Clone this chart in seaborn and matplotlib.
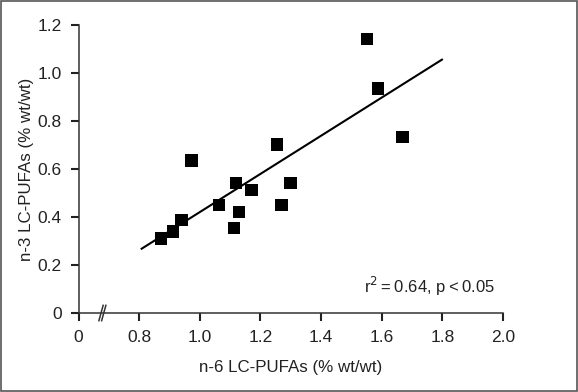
import matplotlib
matplotlib.use("Agg")
import matplotlib.pyplot as plt
import seaborn as sns
import pandas as pd
from matplotlib.patches import Rectangle

# values
n6 = [0.872, 0.911, 0.940, 0.973, 1.063, 1.120, 1.113, 1.130, 1.171,
      1.254, 1.269, 1.299, 1.551, 1.588, 1.669]
n3 = [0.310, 0.339, 0.388, 0.636, 0.451, 0.542, 0.354, 0.422, 0.513,
      0.703, 0.449, 0.543, 1.143, 0.936, 0.733]

# regression line end points
fit_x = [0.808, 1.799]
fit_y = [0.268, 1.056]

x_ticks = [0.6, 0.8, 1.0, 1.2, 1.4, 1.6, 1.8, 2.0]
x_labels = ["0", "0.8", "1.0", "1.2", "1.4", "1.6", "1.8", "2.0"]
y_ticks = [0, 0.2, 0.4, 0.6, 0.8, 1.0, 1.2]
y_labels = ["0", "0.2", "0.4", "0.6", "0.8", "1.0", "1.2"]

df = pd.DataFrame({"n6": n6, "n3": n3})
fit = pd.DataFrame({"x": fit_x, "y": fit_y})

plt.rcParams["font.family"] = ["Liberation Sans", "DejaVu Sans"]

fig = plt.figure(figsize=(5.78, 3.92), dpi=100)
ax = fig.add_axes([0.136, 0.2015, 0.734, 0.7345])

sns.lineplot(data=fit, x="x", y="y", ax=ax, color="black", linewidth=1.5)
sns.scatterplot(data=df, x="n6", y="n3", ax=ax, marker="s", s=80,
                color="black", edgecolor="none", zorder=3)

ax.set_xlim(0.6, 2.0)
ax.set_ylim(0, 1.2)
ax.set_xticks(x_ticks, x_labels)
ax.set_yticks(y_ticks, y_labels)
ax.tick_params(axis="both", direction="out", length=6, width=1.5,
               colors="#222222", labelsize=12.5, pad=6)

# make sure every tick mark is drawn
for t in ax.xaxis.get_major_ticks() + ax.yaxis.get_major_ticks():
    t.tick1line.set_visible(True)
    t.tick1line.set_markeredgecolor("#222222")
    t.tick1line.set_markeredgewidth(1.5)
    t.tick1line.set_markersize(6)

ax.set_xlabel("n-6 LC-PUFAs (% wt/wt)", fontsize=12.2, color="#222222", labelpad=11)
ax.set_ylabel("n-3 LC-PUFAs (% wt/wt)", fontsize=12.2, color="#222222", labelpad=3)

ax.spines["top"].set_visible(False)
ax.spines["right"].set_visible(False)
for s in ["left", "bottom"]:
    ax.spines[s].set_color("#333333")
    ax.spines[s].set_linewidth(1.1)

# axis break mark
for dx in (0.0, 0.009):
    ax.plot([0.667 + dx, 0.681 + dx], [-0.032, 0.032], color="#333333",
            linewidth=1.1, clip_on=False, zorder=4)

ax.text(1.975, 0.11, "r$^2$\u2009=\u20090.64, p\u2009<\u20090.05", ha="right", va="center",
        fontsize=12, color="#222222")

fig.patches.append(Rectangle((0.002, 0.003), 0.996, 0.994, transform=fig.transFigure,
                             fill=False, edgecolor="#555555", linewidth=1.2))

fig.savefig("out.png", dpi=100)
